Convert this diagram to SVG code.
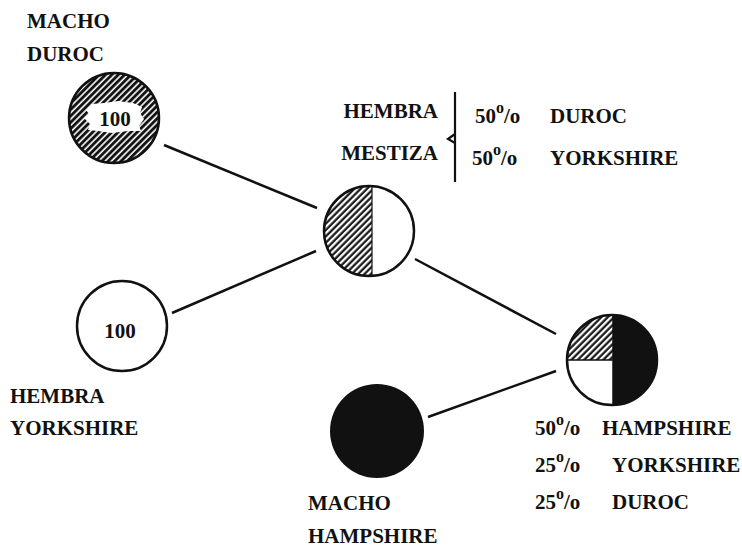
<svg xmlns="http://www.w3.org/2000/svg" width="742" height="549" viewBox="0 0 742 549">
<style>
.t{font-family:"Liberation Serif","Times New Roman",serif;font-weight:bold;font-size:21px;fill:#111}
.s{font-size:16px}
.c{stroke:#111;stroke-width:2.5;fill:none}
.ln{stroke:#111;stroke-width:2.5;fill:none}
</style>
<defs>
<pattern id="h" width="4.5" height="4.5" patternUnits="userSpaceOnUse" patternTransform="rotate(45)">
<rect width="4.5" height="4.5" fill="#fff"/>
<line x1="1.5" y1="0" x2="1.5" y2="4.5" stroke="#111" stroke-width="2.2"/>
</pattern>
<pattern id="hd" width="4.5" height="4.5" patternUnits="userSpaceOnUse" patternTransform="rotate(45)">
<rect width="4.5" height="4.5" fill="#fff"/>
<line x1="1.5" y1="0" x2="1.5" y2="4.5" stroke="#111" stroke-width="2.9"/>
</pattern>
<clipPath id="cm"><circle cx="369" cy="231" r="45"/></clipPath>
<clipPath id="cr"><circle cx="612" cy="360" r="45"/></clipPath>
</defs>
<rect width="742" height="549" fill="#fff"/>
<g id="connectors">
<line class="ln" x1="164" y1="145" x2="317" y2="208"/>
<line class="ln" x1="172" y1="313" x2="316" y2="251"/>
<line class="ln" x1="415" y1="259" x2="556" y2="334"/>
<line class="ln" x1="428" y1="417" x2="556" y2="371"/>
</g>
<g id="macho-duroc">
<circle cx="114" cy="118" r="45" fill="url(#hd)" stroke="#111" stroke-width="2.5"/>
<path d="M86 110 L92 104 L104 103 L118 101 L133 103 L142 107 L140 113 L144 119 L139 126 L141 131 L128 131 L112 133 L98 131 L88 130 L90 124 L84 118 L89 114 Z" fill="#fff"/>
<text class="t" x="115" y="126" text-anchor="middle" font-size="23">100</text>
<text class="t" x="27" y="28">MACHO</text>
<text class="t" x="27" y="61">DUROC</text>
</g>
<g id="hembra-yorkshire">
<circle class="c" cx="122" cy="326" r="45" fill="#fff"/>
<text class="t" x="120" y="338" text-anchor="middle" font-size="22">100</text>
<text class="t" x="10" y="403">HEMBRA</text>
<text class="t" x="10" y="435">YORKSHIRE</text>
</g>
<g id="hembra-mestiza">
<rect x="320" y="183" width="52" height="96" fill="url(#h)" clip-path="url(#cm)"/>
<line x1="372" y1="186" x2="372" y2="276" stroke="#111" stroke-width="1.2"/>
<circle class="c" cx="369" cy="231" r="45"/>
<text class="t" x="438" y="118" text-anchor="end">HEMBRA</text>
<text class="t" x="438" y="160" text-anchor="end">MESTIZA</text>
<path d="M455 92 L455 182 M455 134 L448 139 L455 143" stroke="#111" stroke-width="2.2" fill="none"/>
<text class="t" x="475" y="123">50<tspan class="s" dy="-10">o</tspan><tspan dy="10">/o</tspan></text>
<text class="t" x="550" y="123">DUROC</text>
<text class="t" x="472" y="165">50<tspan class="s" dy="-10">o</tspan><tspan dy="10">/o</tspan></text>
<text class="t" x="550" y="165">YORKSHIRE</text>
</g>
<g id="resultado">
<rect x="565" y="313" width="48" height="47" fill="url(#h)" clip-path="url(#cr)"/>
<rect x="613" y="313" width="50" height="94" fill="#111" clip-path="url(#cr)"/>
<line x1="567" y1="360" x2="613" y2="360" stroke="#111" stroke-width="1.5"/>
<line x1="613" y1="315" x2="613" y2="405" stroke="#111" stroke-width="1.5"/>
<circle class="c" cx="612" cy="360" r="45"/>
<text class="t" x="535" y="435">50<tspan class="s" dy="-10">o</tspan><tspan dy="10">/o</tspan></text>
<text class="t" x="602" y="435">HAMPSHIRE</text>
<text class="t" x="535" y="472">25<tspan class="s" dy="-10">o</tspan><tspan dy="10">/o</tspan></text>
<text class="t" x="612" y="472">YORKSHIRE</text>
<text class="t" x="535" y="509">25<tspan class="s" dy="-10">o</tspan><tspan dy="10">/o</tspan></text>
<text class="t" x="612" y="509">DUROC</text>
</g>
<g id="macho-hampshire">
<circle cx="377" cy="431" r="47" fill="#111"/>
<text class="t" x="308" y="510">MACHO</text>
<text class="t" x="308" y="543">HAMPSHIRE</text>
</g>
</svg>
